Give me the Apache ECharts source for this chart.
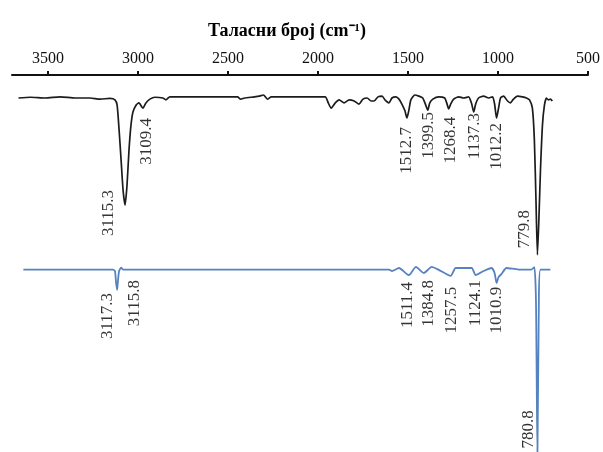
<!DOCTYPE html>
<html lang="sr">
<head>
    <meta charset="UTF-8">
    <title>IR spektar</title>
    <script src="https://cdn.jsdelivr.net/npm/echarts@6.0.0/dist/echarts.min.js"></script>
    <style>
        html, body { margin: 0; padding: 0; background: #fff; }
        #main { width: 603px; height: 452px; }
    </style>
</head>
<body>
    <div id="main"></div>
    <script type="text/javascript">
        // wavenumber ticks on the top axis
        const xTicks = [3500, 3000, 2500, 2000, 1500, 1000, 500];

        // upper (black) spectrum: [wavenumber, relative transmittance]
        const spectrumA = [
          [3664, 93.9], [3598, 94.1], [3515, 93.9], [3432, 94.2], [3349, 93.9], [3266, 93.9],
          [3211, 93.6], [3155, 93.8], [3128, 93.4], [3116, 92.0], [3105, 85.4], [3094, 77.5],
          [3083, 69.5], [3072, 65.5], [3061, 70.8], [3050, 80.1], [3039, 86.7], [3028, 90.2],
          [3011, 92.0], [2995, 92.6], [2973, 91.2], [2956, 92.6], [2934, 93.6], [2906, 94.1],
          [2862, 93.9], [2845, 93.4], [2823, 94.2], [2657, 94.2], [2447, 94.2], [2430, 93.6],
          [2408, 93.9], [2353, 94.2], [2325, 94.4], [2303, 94.7], [2281, 93.6], [2259, 94.2],
          [2104, 94.2], [1960, 94.2], [1943, 92.6], [1927, 91.2], [1904, 92.6], [1882, 93.4],
          [1855, 92.6], [1827, 93.4], [1799, 93.1], [1772, 92.3], [1750, 93.6], [1727, 93.9],
          [1705, 93.1], [1689, 93.1], [1667, 94.2], [1644, 94.4], [1628, 93.4], [1606, 92.6],
          [1589, 93.9], [1567, 94.2], [1550, 93.6], [1534, 92.3], [1517, 90.5], [1506, 88.6],
          [1495, 90.7], [1484, 93.4], [1462, 94.7], [1440, 94.4], [1418, 93.9], [1406, 92.6],
          [1390, 90.7], [1379, 92.6], [1362, 93.6], [1329, 94.2], [1296, 93.9], [1285, 92.6],
          [1274, 91.0], [1263, 92.3], [1246, 93.6], [1218, 94.2], [1191, 93.9], [1163, 94.2],
          [1146, 92.3], [1135, 90.2], [1124, 92.3], [1108, 93.9], [1080, 94.4], [1052, 93.9],
          [1030, 94.2], [1019, 92.3], [1008, 88.6], [997, 91.2], [986, 93.9], [969, 94.4],
          [947, 93.1], [931, 92.6], [914, 93.6], [892, 94.4], [864, 94.2], [842, 93.9],
          [825, 93.4], [809, 91.2], [798, 82.8], [789, 66.8], [781, 52.3], [773, 61.5],
          [764, 74.8], [753, 86.7], [742, 92.0], [731, 93.9], [720, 93.4], [709, 93.6], [698, 93.1]
        ];

        // lower (blue) spectrum
        const spectrumB = [
          [3637, 48.4], [3400, 48.4], [3139, 48.4], [3128, 48.0], [3122, 45.0], [3116, 43.0],
          [3111, 45.6], [3105, 48.0], [3094, 48.9], [3083, 48.4], [2500, 48.4], [1606, 48.4],
          [1589, 48.0], [1550, 48.8], [1495, 46.9], [1456, 49.1], [1412, 47.5], [1368, 49.1],
          [1329, 48.3], [1263, 46.7], [1235, 48.8], [1191, 48.8], [1146, 48.8], [1124, 46.9],
          [1080, 48.0], [1036, 48.8], [1019, 47.5], [1008, 44.8], [997, 46.4], [981, 47.2],
          [953, 48.8], [886, 48.4], [815, 48.4], [798, 49.0], [789, 40.0], [781, -1.0],
          [773, 40.0], [764, 48.4], [709, 48.4]
        ];

        // peak annotations: text, and the top end of the vertical label [wavenumber, value]
        const peakNamesA = ['3115.3', '3109.4', '1512.7', '1399.5', '1268.4', '1137.3', '1012.2', '779.8'];
        const peakAnchorsA = [[3166, 69.5], [2950, 88.6], [1506, 86.2], [1384, 90.2], [1263, 88.9], [1130, 89.9], [1009, 87.3], [853, 64.2]];
        const peakNamesB = ['3117.3', '3115.8', '1511.4', '1384.8', '1257.5', '1124.1', '1010.9', '780.8'];
        const peakAnchorsB = [[3172, 42.2], [3017, 45.6], [1501, 45.1], [1384, 45.6], [1257, 43.8], [1124, 45.6], [1009, 43.8], [831, 11.1]];

        const serif = '"Liberation Serif", "Times New Roman", serif';

        function labelSeries(names, anchors) {
          return {
            type: 'scatter',
            silent: true,
            symbolSize: 0,
            data: anchors.map((p, i) => ({ name: names[i], value: p })),
            label: {
              show: true,
              position: 'inside',
              rotate: 90,
              align: 'right',
              verticalAlign: 'middle',
              formatter: '{b}',
              fontFamily: serif,
              fontSize: 17,
              color: '#000'
            },
            z: 5
          };
        }

        const option = {
          animation: false,
          title: {
            text: 'Таласни број (cm\u207B\u00B9)',
            left: 203,
            top: 17,
            textStyle: {
              fontFamily: serif,
              fontSize: 18,
              fontWeight: 'bold',
              color: '#000'
            }
          },
          grid: {
            left: 12,
            right: 13,
            top: 75,
            bottom: 0
          },
          xAxis: {
            type: 'value',
            position: 'top',
            inverse: true,
            min: 500,
            max: 3700,
            interval: 500,
            axisLine: { onZero: false, lineStyle: { color: '#111', width: 2 } },
            axisTick: { customValues: xTicks, length: 4, lineStyle: { color: '#111', width: 2 } },
            axisLabel: {
              customValues: xTicks,
              margin: 8,
              formatter: v => String(v),
              fontFamily: serif,
              fontSize: 16,
              color: '#111'
            },
            splitLine: { show: false }
          },
          yAxis: {
            type: 'value',
            min: 0,
            max: 100,
            show: false,
            splitLine: { show: false }
          },
          series: [
            {
              type: 'line',
              data: spectrumA,
              symbol: 'none',
              smooth: 0.2,
              lineStyle: { color: '#1c1c1c', width: 1.7 },
              silent: true
            },
            {
              type: 'line',
              data: spectrumB,
              symbol: 'none',
              smooth: 0.2,
              lineStyle: { color: '#5683bf', width: 1.8 },
              silent: true
            },
            labelSeries(peakNamesA, peakAnchorsA),
            labelSeries(peakNamesB, peakAnchorsB)
          ]
        };

        const myChart = echarts.init(document.getElementById('main'));
        myChart.setOption(option);
    </script>
</body>
</html>
